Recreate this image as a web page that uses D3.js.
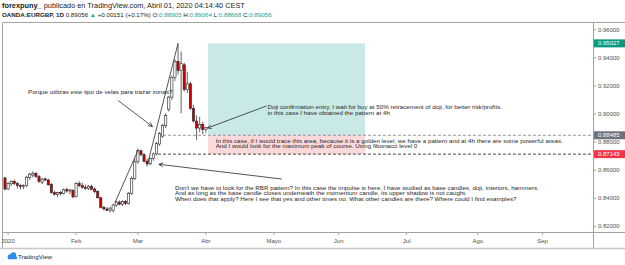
<!DOCTYPE html>
<html><head><meta charset="utf-8">
<script src="https://cdn.jsdelivr.net/npm/d3@7"></script>
<style>html,body{margin:0;padding:0;background:#fff;overflow:hidden}</style>
</head><body><svg id="c" width="625" height="265"></svg>
<script>
// ---------------- DATA ----------------
const firstBarDate = "2019-12-31";
const opens  = [.8545,.8466,.8503,.8520,.8505,.8490,.8483,.8490,.8548,.8565,.8578,.8555,.8515,.8537,.8530,.8500,.8440,.8428,.8440,.8434,.8461,.8452,.8458,
                .8412,.8505,.8490,.8478,.8470,.8486,.8466,.8450,.8404,.8336,.8324,.8315,.8312,.8352,.8373,.8358,.8378,.8364,.8436,.8542,
                .8660,.8738,.8710,.8664,.8645,.8682,.8716,.8786,.8842,.8916,.9034,.9120,.9260,.9375,.9310,.9350,.9175,.9215,.9040,.8950,.8900,.8925,.88905];
const highs  = [.8553,.8515,.8528,.8535,.8515,.8503,.8500,.8560,.8582,.8593,.8587,.8568,.8545,.8550,.8541,.8508,.8455,.8446,.8452,.8470,.8476,.8466,.8462,
                .8515,.8522,.8512,.8498,.8494,.8496,.8478,.8456,.8410,.8346,.8338,.8340,.8362,.8382,.8386,.8386,.8388,.8446,.8556,.8690,
                .8755,.8746,.8722,.8680,.8690,.8726,.8802,.8870,.8930,.9006,.9130,.9275,.9390,.9503,.9445,.9365,.9300,.9230,.9065,.8990,.8980,.8945,.89064];
const lows   = [.8455,.8458,.8488,.8495,.8470,.8462,.8465,.8480,.8530,.8548,.8545,.8510,.8502,.8522,.8490,.8432,.8420,.8408,.8418,.8428,.8440,.8430,.8400,
                .8405,.8478,.8468,.8460,.8458,.8458,.8435,.8398,.8328,.8314,.8308,.8298,.8300,.8340,.8350,.8345,.8352,.8356,.8425,.8530,
                .8645,.8700,.8655,.8625,.8635,.8668,.8705,.8774,.8830,.8900,.9018,.9100,.9235,.9280,.9005,.9160,.9150,.9030,.8940,.8815,.8870,.8855,.88668];
const closes = [.8466,.8505,.8520,.8505,.8490,.8483,.8492,.8550,.8572,.8578,.8555,.8520,.8537,.8530,.8496,.8440,.8428,.8440,.8434,.8461,.8452,.8460,.8410,
                .8505,.8490,.8478,.8470,.8486,.8464,.8448,.8404,.8335,.8324,.8315,.8330,.8352,.8373,.8358,.8378,.8364,.8436,.8542,.8660,
                .8740,.8710,.8664,.8645,.8682,.8716,.8790,.8860,.8920,.8990,.9120,.9260,.9375,.9310,.9358,.9175,.9215,.9040,.8950,.8900,.8925,.88905,.89056];

const monthTickDates  = ["2020-01-02","2020-02-03","2020-03-02","2020-04-01","2020-05-01","2020-06-01","2020-07-01","2020-08-03","2020-09-01"];
const monthTickLabels = ["2020","Feb","Mar","Abr","Mayo","Jun","Jul","Ago","Sep"];
const priceTicks = [0.82,0.84,0.86,0.88,0.90,0.92,0.94,0.96];
const targetPrice = 0.95027, entryPrice = 0.88485, stopPrice = 0.87143;

const headerUser = "forexpuny_";
const headerRest = " publicado en TradingView.com, Abril 01, 2020 04:14:40 CEST";
const symbolText = "OANDA:EURGBP, 1D";
const lastPrice = "0.89056", changeText = "+0.00151 (+0.17%)";
const ohlcLabels = ["O:","H:","L:","C:"], ohlcValues = ["0.88905","0.89064","0.88668","0.89056"];

// annotations anchored in (bar index, price)
const trendLines = [[35.6,0.8369,43.1,0.8744],[46.3,0.8658,56.0,0.95027]];
const arrows = [[36.6,0.9096,47.7,0.8911],[89.6,0.8537,49.8,0.8642],[84.6,0.9057,65.5,0.8900]];
const positionSpan = [65.7, 116.5];
const entryLineStart = 51.1, stopLineStart = 49.5;
const notes = [
  {i:7.44, p:0.91431, lines:["Porque utilizas este tipo de velas para trazar zonas?"]},
  {i:84.95, p:0.90342, lines:["Doji confirmation entry, I wait for buy at 50% retracement of doji, for better risk/profits.","in this case I have obtained the pattern at 4h"]},
  {i:68.19, p:0.87964, lines:["In this case, if I would trace this area, because it is a golden level, we have a pattern and at 4h there are some powerful areas.","And I would look for the maximum peak of course. Using fibonacci level 0"]},
  {i:55.02, p:0.84598, lines:["Don't we have to look for the RBR pattern? In this case the impulse is here. I have studied as base candles, doji, interiors, hammers.","And as long as the base candle closes underneath the momentum candle, its upper shadow is not caught.","When does that apply? Here I see that yes and other times no. What other candles are there? Where could I find examples?"]}
];

// ---------------- HELPERS ----------------
const parse = d3.timeParse("%Y-%m-%d");
const isWeekday = d => d.getDay() !== 0 && d.getDay() !== 6;
const jan2 = new Date(2020,0,2);
function barIndex(s){
  const d = parse(s);
  if (d < jan2) return 0;
  return d3.timeDay.range(jan2, d).filter(isWeekday).length + 1;
}

const svg = d3.select("#c");
const X0=3, X1=593, Y0=23, Y1=232, BOT=248;
const x = d3.scaleLinear().domain([-0.65,190.3]).range([X0,X1]);
const y = d3.scaleLinear().domain([0.81601,0.96477]).range([Y1,Y0]);
const FONT = "Liberation Sans, Arial, sans-serif";
const border = "#a3a3a3";

svg.append("rect").attr("width",625).attr("height",265).attr("fill","#fff");

// clip
svg.append("defs").append("clipPath").attr("id","plot").append("rect")
  .attr("x",X0).attr("y",Y0).attr("width",X1-X0).attr("height",Y1-Y0);
const plot = svg.append("g").attr("clip-path","url(#plot)");

// position tool
plot.append("rect").attr("x",x(positionSpan[0])).attr("width",x(positionSpan[1])-x(positionSpan[0]))
  .attr("y",y(targetPrice)).attr("height",y(entryPrice)-y(targetPrice)).attr("fill","#c9e9e6");
plot.append("rect").attr("x",x(positionSpan[0])).attr("width",x(positionSpan[1])-x(positionSpan[0]))
  .attr("y",y(entryPrice)).attr("height",y(stopPrice)-y(entryPrice)).attr("fill","#fbd9da");

// dashed lines
plot.append("line").attr("x1",x(entryLineStart)).attr("x2",X1).attr("y1",y(entryPrice)).attr("y2",y(entryPrice))
  .attr("stroke","#8a8a8a").attr("stroke-width",0.9).attr("stroke-dasharray","3,2");
plot.append("line").attr("x1",x(stopLineStart)).attr("x2",X1).attr("y1",y(stopPrice)).attr("y2",y(stopPrice))
  .attr("stroke","#333").attr("stroke-width",0.9).attr("stroke-dasharray","3,2");

// candles
const bars = opens.map((o,k)=>({i:k,o,h:highs[k],l:lows[k],c:closes[k]}));
plot.selectAll(".wick").data(bars).enter().append("line")
  .attr("x1",d=>x(d.i)).attr("x2",d=>x(d.i)).attr("y1",d=>y(d.h)).attr("y2",d=>y(d.l))
  .attr("stroke","#222").attr("stroke-width",0.7);
plot.selectAll(".body").data(bars).enter().append("rect")
  .attr("x",d=>x(d.i)-1.1).attr("width",2.2)
  .attr("y",d=>y(Math.max(d.o,d.c))).attr("height",d=>Math.max(0.8,Math.abs(y(d.o)-y(d.c))))
  .attr("fill",d=>d.c>=d.o?"#fff":"#d40000").attr("stroke","#222").attr("stroke-width",0.6);

// trend lines
plot.selectAll(".tl").data(trendLines).enter().append("line")
  .attr("x1",d=>x(d[0])).attr("y1",d=>y(d[1])).attr("x2",d=>x(d[2])).attr("y2",d=>y(d[3]))
  .attr("stroke","#2a2a2a").attr("stroke-width",0.8);

// arrows
arrows.forEach(a=>{
  const x1=x(a[0]),y1=y(a[1]),x2=x(a[2]),y2=y(a[3]);
  const g = plot.append("g").attr("stroke","#2a2a2a").attr("stroke-width",0.8).attr("fill","none");
  g.append("line").attr("x1",x1).attr("y1",y1).attr("x2",x2).attr("y2",y2);
  const ang = Math.atan2(y1-y2,x1-x2), L=4.5, s=0.45;
  g.append("path").attr("d",`M${x2+L*Math.cos(ang+s)},${y2+L*Math.sin(ang+s)}L${x2},${y2}L${x2+L*Math.cos(ang-s)},${y2+L*Math.sin(ang-s)}`);
});

// notes
const noteG = svg.append("g").attr("font-family",FONT).attr("fill","#2a2a2a");
const probe = noteG.append("text").attr("font-size",10).text(notes[3].lines[0]);
const noteSize = 10*364/probe.node().getComputedTextLength();
probe.remove();
notes.forEach(n=>{
  n.lines.forEach((t,k)=>{
    noteG.append("text").attr("x",x(n.i)).attr("y",y(n.p)+k*5.5).attr("font-size",noteSize).text(t);
  });
});

// frame
const fr = svg.append("g").attr("stroke",border).attr("stroke-width",1);
fr.append("line").attr("x1",X0).attr("x2",625).attr("y1",Y0-0.5).attr("y2",Y0-0.5);
fr.append("line").attr("x1",X0-0.5).attr("x2",X0-0.5).attr("y1",Y0-0.5).attr("y2",BOT);
fr.append("line").attr("x1",X1+0.5).attr("x2",X1+0.5).attr("y1",Y0-0.5).attr("y2",BOT);
fr.append("line").attr("x1",X0).attr("x2",625).attr("y1",Y1+0.5).attr("y2",Y1+0.5);
fr.append("line").attr("x1",0).attr("x2",625).attr("y1",BOT+0.5).attr("y2",BOT+0.5).attr("stroke","#c8c8c8").attr("stroke-width",1.5);

// price axis
const pa = svg.append("g").attr("font-family",FONT).attr("font-size",6).attr("fill","#505050");
priceTicks.forEach(p=>{
  pa.append("line").attr("x1",X1).attr("x2",X1+3).attr("y1",y(p)).attr("y2",y(p)).attr("stroke",border);
  pa.append("text").attr("x",X1+5).attr("y",y(p)+2).text(p.toFixed(5));
});
[[targetPrice,"#089981"],[entryPrice,"#6f727c"],[stopPrice,"#f23645"]].forEach(([p,col])=>{
  pa.append("rect").attr("x",X1+1).attr("y",y(p)-4).attr("width",31).attr("height",8).attr("fill",col);
  pa.append("text").attr("x",X1+5).attr("y",y(p)+2).attr("fill","#fff").text(p.toFixed(5));
});

// time axis
const ta = svg.append("g").attr("font-family",FONT).attr("font-size",6).attr("fill","#505050").attr("text-anchor","middle");
monthTickDates.forEach((d,k)=>{
  const xi = x(barIndex(d));
  ta.append("line").attr("x1",xi).attr("x2",xi).attr("y1",Y1+1).attr("y2",Y1+3).attr("stroke",border);
  ta.append("text").attr("x",xi).attr("y",Y1+11).text(monthTickLabels[k]);
});

// header
const h1 = svg.append("text").attr("x",2).attr("y",8).attr("font-family",FONT).attr("font-size",7).attr("fill","#1b1b1b");
h1.append("tspan").attr("font-weight","bold").text(headerUser);
h1.append("tspan").text(headerRest);
h1.attr("font-size",7*243/h1.node().getComputedTextLength());
const teal = "#22a08e";
const h2 = svg.append("text").attr("x",2).attr("y",17).attr("font-family",FONT).attr("font-size",7).attr("fill","#1b1b1b");
h2.append("tspan").attr("font-weight","bold").text(symbolText);
h2.append("tspan").text(" "+lastPrice+" ");
h2.append("tspan").attr("fill",teal).text("▲");
h2.append("tspan").text(" "+changeText+" ");
ohlcLabels.forEach((l,k)=>{
  h2.append("tspan").text((k?" ":"")+l);
  h2.append("tspan").attr("fill",teal).text(ohlcValues[k]);
});
h2.attr("font-size",7*270/h2.node().getComputedTextLength());

// logo
const lg = svg.append("g").attr("fill","#2e8de5");
lg.append("circle").attr("cx",10).attr("cy",256.5).attr("r",2.3);
lg.append("circle").attr("cx",13.3).attr("cy",255.3).attr("r",3);
lg.append("rect").attr("x",7.7).attr("y",256.5).attr("width",9.5).attr("height",2.8).attr("rx",1.2);
svg.append("text").attr("x",18).attr("y",259).attr("font-family",FONT).attr("font-size",6.2).attr("fill","#1b1b1b").text("TradingView");
</script></body></html>
